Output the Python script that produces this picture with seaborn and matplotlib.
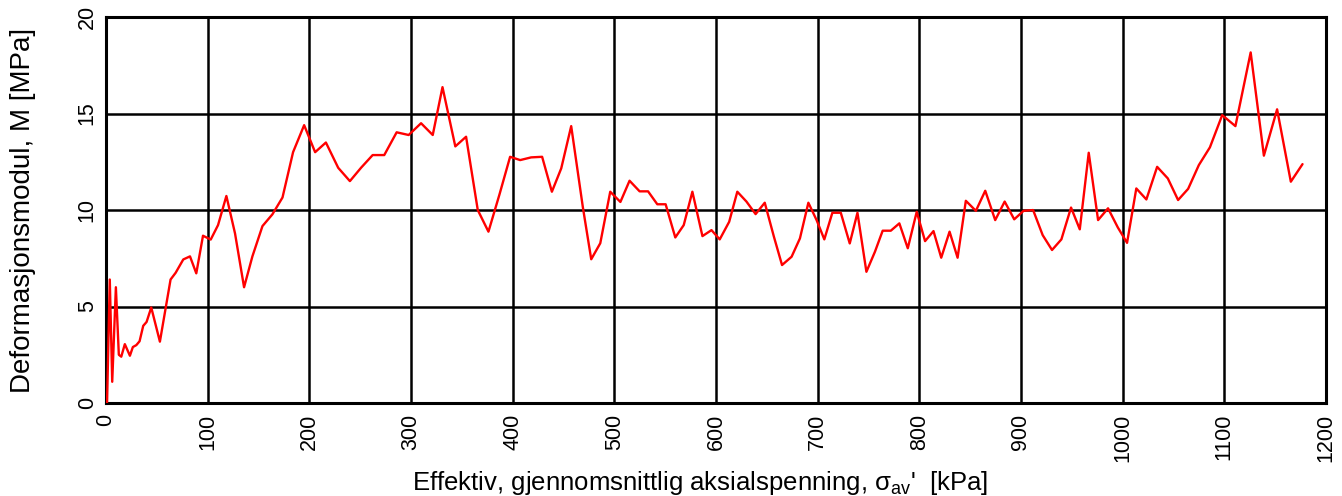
import matplotlib
matplotlib.use("Agg")
import matplotlib.pyplot as plt
from matplotlib.ticker import MultipleLocator
import numpy as np
import pandas as pd
import seaborn as sns

# Effective mean axial stress [kPa]
stress_kpa = [
    1, 3.7, 6.1, 9.7, 12.6, 15, 18.5, 23.5, 26.4, 29.8, 33, 36.6, 39.9, 44.5,
    53, 63.5, 68.5, 76, 82.6, 88.8, 95.4, 103, 110.2, 118.4, 126.9, 135.8,
    144, 153.9, 163.7, 173.6, 184, 194.9, 205.7, 216.3, 228.4, 239.9, 251,
    262.3, 273.7, 285.9, 297.7, 309.9, 321.4, 331, 343.6, 354.2, 365.7,
    376.2, 387, 397.5, 407.4, 418.2, 429, 438.6, 447.8, 457.6, 469, 477.3,
    486.2, 496, 506, 515, 524.9, 533.2, 542.3, 550.5, 560, 568.3, 576.8,
    586.7, 595.6, 603.7, 613, 621, 630, 639, 648, 657, 665, 674.4, 682.6,
    690.9, 699, 706.6, 714.5, 722.8, 731.6, 739.2, 748, 756.4, 764, 772,
    780.4, 788.7, 797.5, 805.7, 814, 821.6, 829.8, 837.7, 845.8, 855.7,
    864.9, 874.7, 884, 893.4, 902.6, 912, 921.4, 930.6, 939.8, 949.3, 957.9,
    966.7, 975.9, 985.7, 995.3, 1004.4, 1013.5, 1023.4, 1034, 1044.5,
    1054.6, 1064.5, 1075, 1085.9, 1098, 1111, 1126, 1139, 1152, 1165.5, 1177,
]

# Constrained modulus M [MPa]
modulus_mpa = [
    0.0, 6.4, 1.1, 6.0, 2.5, 2.4, 3.05, 2.45, 2.9, 3.0, 3.2, 4.0, 4.2, 4.95,
    3.18, 6.4, 6.75, 7.44, 7.6, 6.72, 8.67, 8.47, 9.22, 10.73, 8.79, 6.0,
    7.6, 9.17, 9.78, 10.65, 13.0, 14.4, 13.0, 13.5, 12.19, 11.5, 12.2,
    12.85, 12.85, 14.03, 13.89, 14.5, 13.89, 16.37, 13.3, 13.8, 10.0,
    8.88, 10.8, 12.76, 12.59, 12.73, 12.76, 10.95, 12.16, 14.35, 10.17, 7.45,
    8.28, 10.95, 10.42, 11.52, 10.97, 10.97, 10.3, 10.3, 8.58, 9.22, 10.95,
    8.65, 8.96, 8.48, 9.39, 10.95, 10.44, 9.79, 10.38, 8.62, 7.15, 7.58, 8.53,
    10.38, 9.48, 8.48, 9.86, 9.86, 8.27, 9.86, 6.8, 7.84, 8.93, 8.93,
    9.31, 8.02, 9.91, 8.39, 8.91, 7.53, 8.88, 7.53, 10.48, 9.96,
    11.0, 9.48, 10.44, 9.52, 9.96, 10.0, 8.7, 7.93, 8.48, 10.13, 9.0,
    12.97, 9.48, 10.09, 9.1, 8.3, 11.12, 10.55, 12.24, 11.64,
    10.52, 11.1, 12.33, 13.25, 14.92, 14.35, 18.17, 12.82, 15.22, 11.47, 12.38,
]

x_ticks = [0, 100, 200, 300, 400, 500, 600, 700, 800, 900, 1000, 1100, 1200]
y_ticks = [0, 5, 10, 15, 20]

df = pd.DataFrame({"stress": stress_kpa, "M": modulus_mpa})

sns.set_style("white")
plt.rcParams["font.family"] = ["Liberation Sans", "DejaVu Sans"]
plt.rcParams["mathtext.fontset"] = "custom"
plt.rcParams["mathtext.rm"] = "Liberation Sans"
plt.rcParams["mathtext.it"] = "Liberation Sans:italic"
plt.rcParams["text.color"] = "black"
plt.rcParams["axes.labelcolor"] = "black"
plt.rcParams["xtick.color"] = "black"
plt.rcParams["ytick.color"] = "black"

fig = plt.figure(figsize=(13.42, 4.96), dpi=100)
ax = fig.add_axes([0.079, 0.1875, 0.909, 0.778])

sns.lineplot(data=df, x="stress", y="M", sort=False, estimator=None,
             color="#ff0000", linewidth=1.7, ax=ax, zorder=3)

ax.set_xlim(0, 1200)
ax.set_ylim(0, 20)
ax.set_xticks(x_ticks)
ax.set_yticks(y_ticks)
ax.set_xticklabels([str(v) for v in x_ticks], rotation=90, fontsize=15.5)
ax.set_yticklabels([str(v) for v in y_ticks], rotation=90, va="center", fontsize=15.5)
ax.xaxis.set_minor_locator(MultipleLocator(20))
ax.yaxis.set_minor_locator(MultipleLocator(2.5))

ax.grid(True, which="major", color="black", linewidth=1.8)
ax.tick_params(which="major", direction="out", length=5, width=1.2,
               color="#444444", labelcolor="black")
ax.tick_params(axis="y", which="major", pad=1)
ax.tick_params(axis="x", which="major", pad=3)
ax.tick_params(which="minor", direction="in", length=5, width=1.0, color="#444444")

for sp in ax.spines.values():
    sp.set_visible(True)
    sp.set_color("black")
    sp.set_linewidth(2.2)

ax.set_xlabel("Effektiv, gjennomsnittlig aksialspenning, σ$_{\\mathrm{av}}$'  [kPa]",
              fontsize=18.5)
ax.set_ylabel("Deformasjonsmodul, M [MPa]", fontsize=20)
ax.xaxis.set_label_coords(0.487, -0.17)
ax.yaxis.set_label_coords(-0.057, 0.5)

fig.savefig("out.png", dpi=100)
